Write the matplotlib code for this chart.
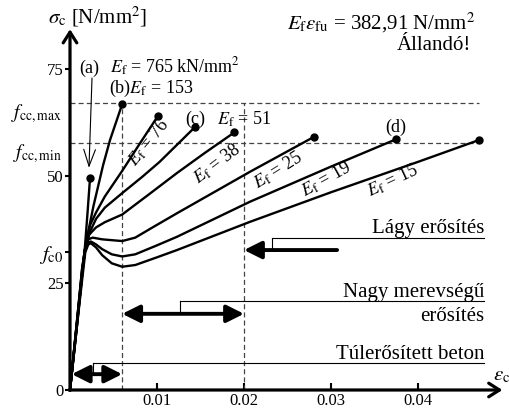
import matplotlib
matplotlib.use("Agg")
import matplotlib.pyplot as plt

plt.rcParams["font.family"] = ["Liberation Serif", "DejaVu Serif"]
plt.rcParams["mathtext.fontset"] = "stix"

# stress-strain curves (strain [-], stress [N/mm2])
eps_a = [0, 0.0008, 0.0013, 0.0017, 0.0020, 0.0023]
sig_a = [0, 16, 25, 33, 41, 49.5]

eps_153 = [0, 0.0008, 0.0014, 0.0019, 0.0027, 0.0038, 0.0046, 0.0060]
sig_153 = [0, 16, 28.5, 35, 43, 52.5, 58.4, 66.8]

eps_76 = [0, 0.0008, 0.0014, 0.0018, 0.0023, 0.0030, 0.0040, 0.0060, 0.0080, 0.0101]
sig_76 = [0, 16, 28.5, 34, 38.5, 41.5, 45.2, 51.2, 57.5, 64]

eps_51 = [0, 0.0008, 0.0014, 0.0018, 0.0023, 0.0030, 0.0040, 0.0060, 0.0083, 0.0103, 0.0144]
sig_51 = [0, 15.5, 28, 33.5, 37, 40, 42.6, 46, 49.8, 53.3, 61.5]

eps_38 = [0, 0.0008, 0.0014, 0.0018, 0.0022, 0.0030, 0.0040, 0.0060, 0.0090, 0.0123, 0.0155, 0.0189]
sig_38 = [0, 15.5, 27.5, 33.5, 36.3, 38, 39.2, 41, 45.6, 50.7, 55.4, 60.2]

eps_25 = [0, 0.0008, 0.0014, 0.0017, 0.0021, 0.0026, 0.0037, 0.0060, 0.0075, 0.0095, 0.0123, 0.0207, 0.0280]
sig_25 = [0, 15, 27.5, 32.8, 35.2, 35.6, 35.2, 34.8, 35.6, 38, 41.3, 51, 59.1]

eps_19 = [0, 0.0008, 0.0014, 0.0017, 0.0021, 0.0024, 0.0030, 0.0037, 0.0048, 0.0060, 0.0075,
          0.0100, 0.0123, 0.0207, 0.0300, 0.0375]
sig_19 = [0, 15, 27, 32.5, 34.5, 34.7, 34, 32.9, 31.7, 31.2, 31.7, 33.8, 35.8, 44, 52.2, 58.6]

eps_15 = [0, 0.0008, 0.00146, 0.00176, 0.0021, 0.0024, 0.0030, 0.0037, 0.0048, 0.0060, 0.0075,
          0.0100, 0.0123, 0.0207, 0.0300, 0.0400, 0.0470]
sig_15 = [0, 15, 26.9, 32.2, 34, 34.3, 33.3, 31.5, 29.6, 28.8, 29.2, 31, 32.7, 39.3, 46.2, 53.3, 58.4]

fc0 = 32.2
fcc_min = 57.7
fcc_max = 67.0
eps_lim = [0.006, 0.020]
dash_end = 0.047

x_ticks = [0.01, 0.02, 0.03, 0.04]
x_labels = ["0.01", "0.02", "0.03", "0.04"]
y_ticks = [0, 25, 50, 75, fc0]
y_labels = ["0", "25", "50", "75", r"$f_\mathrm{c0}$"]

# rotated curve labels: (text, strain, stress, angle)
curve_labels = [
    (r"$E_\mathrm{f}$ = 76", 0.0090, 57.7, 51),
    (r"$E_\mathrm{f}$ = 38", 0.0169, 52.8, 37),
    (r"$E_\mathrm{f}$ = 25", 0.0239, 51.4, 32),
    (r"$E_\mathrm{f}$ = 19", 0.0294, 49.3, 29),
    (r"$E_\mathrm{f}$ = 15", 0.0371, 48.8, 25),
]

fig = plt.figure(figsize=(5.09, 4.11), dpi=100)
ax = fig.add_axes([0, 0, 1, 1])
ax.set_xlim(-70 / 8700, 439 / 8700)
ax.set_ylim(-21 / 4.28, 390 / 4.28)
ax.patch.set_visible(False)

for s in ["top", "right"]:
    ax.spines[s].set_visible(False)
for s in ["left", "bottom"]:
    ax.spines[s].set_position(("data", 0))
    ax.spines[s].set_visible(False)

ax.set_xticks(x_ticks, x_labels)
ax.set_yticks(y_ticks, y_labels)
ax.tick_params(axis="x", direction="in", length=5, width=1.5, labelsize=12, pad=2)
ax.tick_params(axis="y", direction="out", length=3.5, width=1.5, labelsize=12, pad=1)
ax.get_yticklabels()[-1].set_fontsize(15)

# axes with arrow heads
arrow_ax = dict(arrowstyle="->,head_length=0.55,head_width=0.35", lw=2.3, color="black",
                shrinkA=0, shrinkB=0, mutation_scale=14)
ax.annotate("", xy=(0, 84.3), xytext=(0, 0), arrowprops=arrow_ax)
ax.annotate("", xy=(0.0497, 0), xytext=(-0.0001, 0), arrowprops=arrow_ax)

# dashed helper lines
dash_kw = dict(color="#444444", lw=0.9, ls=(0, (4, 2.5)))
ax.plot([0, dash_end], [fcc_max, fcc_max], **dash_kw)
ax.plot([0, dash_end], [fcc_min, fcc_min], **dash_kw)
for e in eps_lim:
    ax.plot([e, e], [0, fcc_max], **dash_kw)

curves = [(eps_a, sig_a), (eps_153, sig_153), (eps_76, sig_76), (eps_51, sig_51),
          (eps_38, sig_38), (eps_25, sig_25), (eps_19, sig_19), (eps_15, sig_15)]
for eps, sig in curves:
    ax.plot(eps, sig, color="black", lw=1.7, solid_joinstyle="round")
    ax.plot(eps[-1], sig[-1], "o", color="black", ms=5)

for txt, x, y, rot in curve_labels:
    ax.text(x, y, txt, fontsize=13, rotation=rot, rotation_mode="anchor",
            ha="center", va="center")

# y axis extra labels
ax.text(-0.0009, fcc_max - 2.5, r"$f_\mathrm{cc,max}$", fontsize=14, ha="right", va="center")
ax.text(-0.0009, fcc_min - 2.5, r"$f_\mathrm{cc,min}$", fontsize=14, ha="right", va="center")

ax.text(-0.0025, 85.7, r"$\sigma_\mathrm{c}$ [N/mm$^2$]", fontsize=15, ha="left", va="baseline")
ax.text(0.0486, 2.3, r"$\varepsilon_\mathrm{c}$", fontsize=15, ha="left", va="baseline")

ax.text(0.0466, 84.3, r"$E_\mathrm{f}\varepsilon_\mathrm{fu}$ = 382,91 N/mm$^2$", fontsize=15,
        ha="right", va="baseline")
ax.text(0.0461, 79.4, "Állandó!", fontsize=15, ha="right", va="baseline")

ax.text(0.0022, 74.1, "(a)", fontsize=13, ha="center", va="baseline")
ax.text(0.0046, 74.1, r"$E_\mathrm{f}$ = 765 kN/mm$^2$", fontsize=13, ha="left", va="baseline")
ax.text(0.0045, 69.4, r"(b)$E_\mathrm{f}$ = 153", fontsize=13, ha="left", va="baseline")
ax.text(0.0132, 62.1, "(c)", fontsize=13, ha="left", va="baseline")
ax.text(0.0169, 62.1, r"$E_\mathrm{f}$ = 51", fontsize=13, ha="left", va="baseline")
ax.text(0.0375, 60.3, "(d)", fontsize=13, ha="center", va="baseline")

ax.annotate("", xy=(0.00218, 51.9), xytext=(0.00253, 72.9),
            arrowprops=dict(arrowstyle="->,head_length=1.0,head_width=0.35", lw=0.8,
                            color="black", shrinkA=0, shrinkB=0, mutation_scale=12))

# region annotations
thin = dict(color="black", lw=0.8)
big = dict(lw=2.8, color="black", shrinkA=0, shrinkB=0, mutation_scale=15)

ax.text(0.0476, 36.7, "Lágy erősítés", fontsize=15, ha="right", va="baseline")
ax.plot([0.0232, 0.0476], [35.5, 35.5], **thin)
ax.plot([0.0232, 0.0232], [35.5, 32.7], **thin)
ax.annotate("", xy=(0.0200, 32.7), xytext=(0.0307, 32.7),
            arrowprops=dict(arrowstyle="-|>,head_length=0.7,head_width=0.35", **big))

ax.text(0.0476, 21.7, "Nagy merevségű", fontsize=15, ha="right", va="baseline")
ax.text(0.0476, 16.1, "erősítés", fontsize=15, ha="right", va="baseline")
ax.plot([0.0126, 0.0476], [20.8, 20.8], **thin)
ax.plot([0.0126, 0.0126], [20.8, 17.8], **thin)
ax.annotate("", xy=(0.0200, 17.8), xytext=(0.0060, 17.8),
            arrowprops=dict(arrowstyle="<|-|>,head_length=0.7,head_width=0.35", **big))

ax.text(0.0476, 7.2, "Túlerősített beton", fontsize=15, ha="right", va="baseline")
ax.plot([0.0026, 0.0476], [6.3, 6.3], **thin)
ax.plot([0.0026, 0.0026], [6.3, 3.7], **thin)
ax.annotate("", xy=(0.0060, 3.7), xytext=(0.0002, 3.7),
            arrowprops=dict(arrowstyle="<|-|>,head_length=0.7,head_width=0.35", **big))

fig.savefig("out.png", dpi=100)
